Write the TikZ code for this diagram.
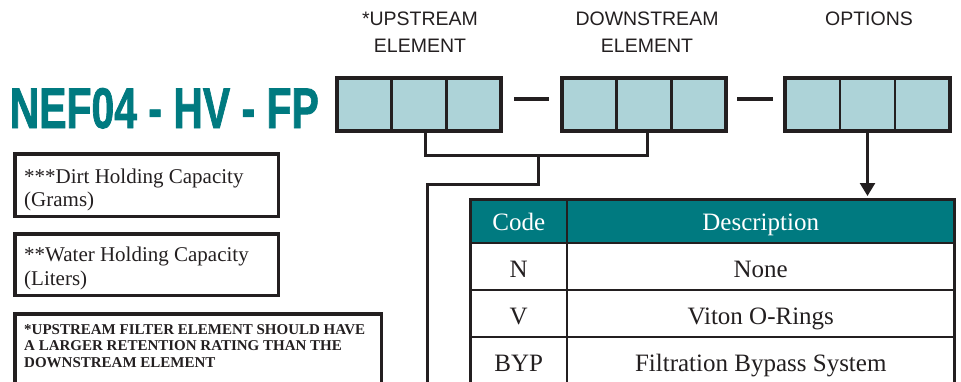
\documentclass[tikz,border=0pt]{standalone}
\usepackage{fontspec}
\setmainfont{Liberation Serif}
\newfontfamily\labelfont{Liberation Sans}
\newfontfamily\titlefont[BoldFeatures={FakeBold=1.6}]{Liberation Sans}
\usetikzlibrary{arrows.meta,fit}
\definecolor{ink}{HTML}{231F20}
\definecolor{tealc}{HTML}{007A80}
\definecolor{cellblue}{HTML}{ADD3D8}
\begin{document}
\begin{tikzpicture}[x=1pt,y=-1pt,
  cell/.style={draw=ink, line width=2.5pt, fill=cellblue, minimum width=54.67pt, minimum height=53pt, inner sep=0pt, outer sep=0pt},
  grp/.style={draw=ink, line width=4pt, inner sep=0pt},
  dashline/.style={draw=ink, line width=4pt},
  conn/.style={draw=ink, line width=3pt},
  lbl/.style={font=\labelfont\fontsize{19.5}{26.5}\selectfont, text=ink, align=center, inner sep=0pt, anchor=north},
  notebox/.style={draw=ink, line width=3.5pt, inner sep=0pt, anchor=north west},
  note/.style={font=\fontsize{21}{23}\selectfont, text=ink, anchor=base west, inner sep=0pt},
  warntxt/.style={font=\bfseries\fontsize{15}{17}\selectfont, text=ink, anchor=base west, inner sep=0pt},
  tcell/.style={draw=ink, line width=2pt, fill=white, inner sep=0pt, outer sep=0pt, text=ink,
    font=\fontsize{25}{28}\selectfont, text height=21.5pt, text depth=0pt, minimum height=47pt},
  hcell/.style={tcell, fill=tealc, text=white, text height=18.5pt, minimum height=43.5pt},
  c1/.style={minimum width=96.5pt},
  c2/.style={minimum width=387.5pt}
]
\useasboundingbox (0,0) rectangle (961,381);
\clip (0,0) rectangle (961,381);

% title
\node[anchor=base west, inner sep=0pt, text=tealc] (title) at (9.5,128)
  {\scalebox{0.714}[1]{\fontsize{57.3}{60}\selectfont\titlefont\bfseries NEF04 - HV - FP}};

% column labels
\node[lbl] (lup) at (420,12) {*UPSTREAM\\ELEMENT};
\node[lbl] (ldown) at (647,12) {DOWNSTREAM\\ELEMENT};
\node[lbl] (lopt) at (869,12) {OPTIONS};

% code boxes
\node[cell] (u1) at (364.33,104.5) {};
\node[cell] (u2) at (419,104.5) {};
\node[cell] (u3) at (473.67,104.5) {};
\node[cell] (d1) at (589.33,104.5) {};
\node[cell] (d2) at (644,104.5) {};
\node[cell] (d3) at (698.67,104.5) {};
\node[cell, minimum width=55pt] (o1) at (812.5,104.5) {};
\node[cell, minimum width=55pt] (o2) at (867.5,104.5) {};
\node[cell, minimum width=55pt] (o3) at (922.5,104.5) {};
\node[grp, fit=(u1)(u3)] (U) {};
\node[grp, fit=(d1)(d3)] (D) {};
\node[grp, fit=(o1)(o3)] (O) {};

\draw[dashline, shorten <=11pt, shorten >=11pt] ([yshift=5.5pt]U.east) -- ([yshift=5.5pt]D.west);
\draw[dashline, shorten <=9pt, shorten >=10pt] ([yshift=5.5pt]D.east) -- ([yshift=5.5pt]O.west);

% bracket and connector
\draw[conn] ([xshift=6pt]u2.south) -- ++(0,24) -| ([xshift=3pt]d2.south);
\coordinate (bj) at (538,155);
\coordinate (tail) at (427,400);
\draw[conn] (bj) -- ++(0,29) -| (tail);

% notes
\node[notebox, minimum width=263.5pt, minimum height=62.5pt] (dirt) at (13,152) {};
\node[note] (dirt1) at ([xshift=11pt,yshift=-31pt]dirt.north west) {***Dirt Holding Capacity};
\node[note] (dirt2) at ([xshift=11pt,yshift=-54.5pt]dirt.north west) {(Grams)};
\node[notebox, minimum width=263.5pt, minimum height=61.5pt] (water) at (13,232) {};
\node[note] (water1) at ([xshift=11pt,yshift=-29.5pt]water.north west) {**Water Holding Capacity};
\node[note] (water2) at ([xshift=11pt,yshift=-53.5pt]water.north west) {(Liters)};
\node[notebox, minimum width=366.5pt, minimum height=100pt] (warn) at (13,312) {};
\node[warntxt] (warn1) at ([xshift=11pt,yshift=-22pt]warn.north west) {*UPSTREAM FILTER ELEMENT SHOULD HAVE};
\node[warntxt] (warn2) at ([xshift=11pt,yshift=-38.5pt]warn.north west) {A LARGER RETENTION RATING THAN THE};
\node[warntxt] (warn3) at ([xshift=11pt,yshift=-55pt]warn.north west) {DOWNSTREAM ELEMENT};

% table
\node[hcell, c1] (hc) at (518.75,221.25) {Code};
\node[hcell, c2] (hd) at (760.75,221.25) {Description};
\node[tcell, c1] (n1) at (518.75,266.5) {N};
\node[tcell, c2] (n2) at (760.75,266.5) {None};
\node[tcell, c1] (v1) at (518.75,313.5) {V};
\node[tcell, c2] (v2) at (760.75,313.5) {Viton O-Rings};
\node[tcell, c1] (b1) at (518.75,360.5) {BYP};
\node[tcell, c2] (b2) at (760.75,360.5) {Filtration Bypass System};
\node[draw=ink, line width=3.5pt, inner sep=0pt, fit=(hc)(hd)(b1)(b2)] (tab) {};

% arrow
\draw[conn, line width=2.5pt, -{Triangle[width=15pt,length=13pt]}] (o2.south) -- ([yshift=3.5pt]hd.north -| o2.south);
\end{tikzpicture}
\end{document}
